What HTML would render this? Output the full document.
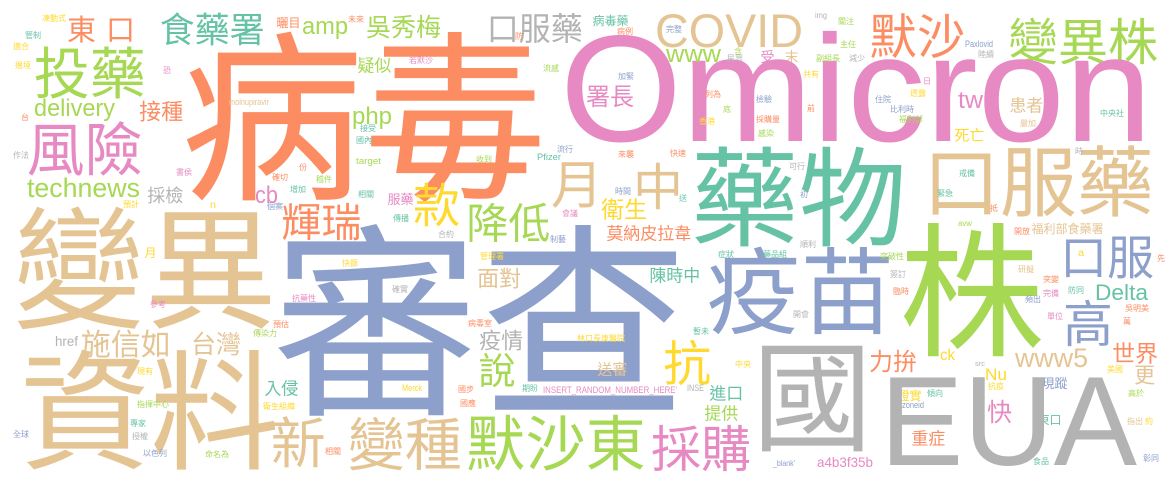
<!DOCTYPE html>
<html><head><meta charset="utf-8"><style>
html,body{margin:0;padding:0;background:#fff;}
svg{display:block;}
text{font-family:"Liberation Sans","Noto Sans CJK TC",sans-serif;}
</style></head><body>
<svg id="cloud" width="1175" height="482" viewBox="0 0 1175 482" xmlns="http://www.w3.org/2000/svg">
<rect width="1175" height="482" fill="#fff"/>
</svg>
<script>
var palette = {o:"#fc8d62",p:"#8da0cb",k:"#e78ac3",g:"#a6d854",y:"#ffd92f",t:"#e5c494",r:"#b3b3b3",c:"#66c2a5"};
// CJK words: text, colour, font size, ink-left, ink-top
var cjkWords = [
["病毒","o",183,188,32],["審查","p",208,280,225],["變異","t",132,18,207],["資料","t",130,25,350],
["藥物","c",108,695,147],["株","g",145,905,223],["國","r",120,757,340],["口服藥","t",77,926,146],
["疫苗","p",94,710,247],["投藥","g",56,36,47],["風險","k",58,29,122],["食藥署","c",35,161,13],
["吳秀梅","g",25,367,15],["口服藥","r",32,488,13],["默沙","o",48,871,13],
["變異株","g",50,1010,18],["中","t",50,635,163],["月","t",52,553,160],["款","y",47,415,183],
["降低","g",42,468,203],["輝瑞","o",40,283,203],["新","t",55,273,417],["變種","t",57,350,417],
["默沙東","g",60,468,415],["採購","k",50,653,425],["抗","y",48,665,340],["說","g",37,480,353],
["疫情","r",22,480,330],["面對","t",22,478,268],["陳時中","c",17,650,267],["衛生","y",23,602,198],
["莫納皮拉韋","o",17,607,225],["口服","p",47,1062,235],["高","p",50,1065,300],["力拚","o",24,870,350],
["世界","o",23,1113,342],["更","t",21,1135,365],["快","k",25,988,400],["重症","o",17,912,430],
["施信如","t",30,82,330],["台灣","t",25,192,332],["入侵","c",17,265,380],["進口","c",17,710,385],
["提供","g",17,705,405],["署長","k",24,587,85],["接種","o",22,140,101],["疑似","g",17,358,57],
["採檢","r",18,148,187],["患者","t",17,1010,97],["死亡","y",15,955,128],["證實","y",12,898,390],
["現蹤","p",13,1042,377],["東口","c",12,1038,414],["曬目","o",12,277,17],["受","k",14,761,50],
["末","t",14,785,50],["服藥","k",13,388,193],["送審","t",15,598,362],["福利部食藥署","t",12,1032,223],
["病毒藥","c",12,593,15],["月","y",12,145,247]
];
// Latin words: text, colour, font size, left, baseline, length
var latinWords = [
["Omicron","k",152,560,141,592],["EUA","r",127,880,465,257],["COVID","t",47,655,47,148],
["www","g",24,666,62,55],["technews","g",27,27,197,113],["delivery","g",24,34,116,81],
["amp","g",24,302,34,46],["php","g",24,352,124,40],["cb","k",24,255,203,23],["tw","k",24,958,108,25],
["Delta","c",22,1095,300,53],["www5","t",27,1015,367,73],["Nu","y",17,985,380,22],["ck","y",16,940,360,15],
["href","r",14,55,346,23],["a4b3f35b","k",14,817,467,56],["Merck","y",9,402,391,20],["Pfizer","c",9,537,160,24],
["target","g",9,356,164,25],["molnupiravir","t",9,229,105,40],["Paxlovid","p",9,965,47,28],
["INSERT_RANDOM_NUMBER_HERE'","k",9,543,393,134],["INSE","r",9,687,391,17],["img","r",8,815,18,12],
["zoneid","p",9,902,408,22],["_blank'","p",8,773,466,22],["src","r",7,975,366,10],["avw","g",8,958,226,14],
["n","y",10,210,208,6],["a","y",10,1078,256,6]
];
// small words: text, colour, left, top
var smallWords = [
["凍動式","y",42,13],["管制","c",25,30],["適合","y",13,41],["邊境","y",15,60],["恐","k",163,65],["台","o",21,112],
["作法","r",13,150],["書侯","k",176,167],["確切","o",272,172],["份","o",299,162],["稽件","g",316,174],["接受","c",360,123],
["國內","c",356,135],["收到","g",476,154],["流行","p",557,144],["相關","c",358,189],["若默沙","k",409,55],["流感","g",543,63],
["防","o",515,31],["未來","o",348,14],["關注","g",838,16],["病例","o",617,26],["完整","p",666,24],["主任","g",840,39],
["含","g",734,46],["民眾","r",727,53],["副組長","g",816,53],["減少","r",849,53],["加緊","p",618,71],["共有","y",803,69],
["日","k",923,76],["列為","o",705,89],["檢驗","p",756,94],["透露","y",910,88],["住院","p",875,94],["比利時","p",890,104],
["底","g",723,104],["前","o",807,103],["香港","y",699,116],["採購量","o",756,114],["福利部","g",899,114],["感染","g",758,128],
["來襲","o",618,149],["快速","o",670,148],["可行","r",789,161],["時","r",1075,146],["戒備","c",959,168],["時間","p",615,186],
["送","c",679,193],["初","p",800,189],["緊急","c",937,188],["抵","o",990,203],["開放","o",1014,226],["中央社","c",1100,108],
["嚴加","t",1020,118],["陸續","r",978,49],["傳播","c",393,213],["合約","r",438,229],["個案","p",267,201],["快篩","y",342,258],
["確實","r",392,284],["抗藥性","k",292,293],["預估","o",273,319],["病毒室","o",468,318],["林口長庚醫院","y",577,333],["國步","o",458,384],
["期盼","c",522,383],["國應","o",460,398],["相關","o",325,446],["衛生組織","y",263,401],["傳染力","g",253,328],["管理署","y",480,251],
["制藝","p",550,234],["會議","k",562,208],["暫未","c",693,326],["中央","y",735,359],["症狀","c",718,249],["增加","c",290,184],
["預計","y",123,199],["參考","k",150,299],["現有","y",137,366],["指揮中心","g",137,399],["專家","c",130,418],["授權","r",132,431],
["全球","p",13,429],["以色列","p",143,448],["命名為","g",205,449],["藥品組","c",763,249],["突破性","g",880,251],["順利","r",800,239],
["簽訂","r",890,269],["臨時","o",893,286],["開會","r",793,309],["研擬","t",1018,264],["突變","o",1043,274],["防同","c",1068,285],
["完備","k",1043,288],["頻出","p",1025,294],["吳明美","o",1125,303],["單位","k",1047,311],["萬","o",1123,316],["先","o",1157,253],
["高於","g",1128,388],["美國","y",1107,364],["指出","t",1127,416],["約","y",1145,416],["彰同","p",1143,453],["傾向","c",927,388],
["抗疫","y",988,381],["食品","c",1033,456]
];
var svg = document.getElementById('cloud');
var NS = "http://www.w3.org/2000/svg";
function slug(s){return 'word-' + encodeURIComponent(s).replace(/%/g,'').toLowerCase().slice(0,30);}
cjkWords.forEach(function(w){
  var el = document.createElementNS(NS,'text');
  el.setAttribute('x', w[3] - 0.04*w[2]);
  el.setAttribute('y', w[4] + 0.84*w[2]);
  el.setAttribute('font-size', w[2]);
  el.setAttribute('fill', palette[w[1]]);
  if (w[0]==="東口" && w[2]>20) el.setAttribute('letter-spacing', 8);
  el.textContent = w[0];
  
  
  svg.appendChild(el);
});
var dk = document.createElementNS(NS,'text');
dk.setAttribute('x', 67); dk.setAttribute('y', 40); dk.setAttribute('font-size', 29);
dk.setAttribute('fill', palette.o); dk.setAttribute('letter-spacing', 10);
dk.textContent = "東口";


svg.appendChild(dk);
latinWords.forEach(function(w){
  var el = document.createElementNS(NS,'text');
  el.setAttribute('x', w[3]);
  el.setAttribute('y', w[4]);
  el.setAttribute('font-size', w[2]);
  el.setAttribute('fill', palette[w[1]]);
  el.setAttribute('textLength', w[5]);
  el.setAttribute('lengthAdjust', 'spacingAndGlyphs');
  el.textContent = w[0];
  
  
  svg.appendChild(el);
});
smallWords.forEach(function(w){
  var el = document.createElementNS(NS,'text');
  el.setAttribute('x', w[2]);
  el.setAttribute('y', w[3] + 8);
  el.setAttribute('font-size', 8);
  el.setAttribute('fill', palette[w[1]]);
  el.textContent = w[0];
  
  
  svg.appendChild(el);
});
</script>
</body></html>
